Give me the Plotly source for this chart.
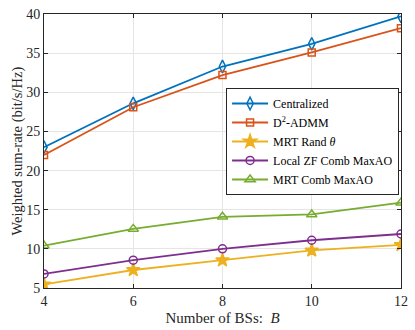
import plotly.graph_objects as go

B = [4, 6, 8, 10, 12]
centralized = [23.0, 28.6, 33.3, 36.2, 39.7]
d2admm = [22.0, 28.1, 32.2, 35.1, 38.2]
mrt_rand = [5.45, 7.3, 8.55, 9.8, 10.5]
local_zf = [6.8, 8.55, 10.0, 11.1, 11.9]
mrt_comb = [10.4, 12.55, 14.1, 14.4, 15.9]

names = ["Centralized", "D<sup>2</sup>-ADMM", "MRT Rand <i>θ</i>",
         "Local ZF Comb MaxAO", "MRT Comb MaxAO"]
series = [centralized, d2admm, mrt_rand, local_zf, mrt_comb]
colors = ["#0072BD", "#D95319", "#EDB120", "#7E2F8E", "#77AC30"]
symbols = ["diamond-tall-open", "square-open", "star", "circle-open", "triangle-up-open"]
sizes = [9, 7, 10, 8, 9]

fig = go.Figure()
for n, s, c, sym, sz in zip(names, series, colors, symbols, sizes):
    fig.add_trace(go.Scatter(
        x=B, y=s, name=n, mode="lines+markers",
        line=dict(color=c, width=1.8),
        marker=dict(symbol=sym, size=sz, color=c, line=dict(color=c, width=1.5)),
    ))

font = "Liberation Serif"
axis_common = dict(
    showgrid=True, gridcolor="#E5E5E5", gridwidth=1,
    showline=True, linecolor="#262626", linewidth=1, mirror="ticks",
    ticks="inside", ticklen=4, tickcolor="#262626",
    zeroline=False, tickfont=dict(family=font, size=14, color="#262626"),
    ticklabeloverflow="allow",
)
fig.update_layout(
    width=415, height=330,
    margin=dict(l=44, r=14, t=7, b=42),
    paper_bgcolor="white", plot_bgcolor="white",
    font=dict(family=font, color="#262626"),
    showlegend=True,
    legend=dict(
        x=0.51, y=0.73, xanchor="left", yanchor="top",
        bgcolor="white", bordercolor="#262626", borderwidth=1,
        font=dict(family=font, size=12, color="#000000"),
        tracegroupgap=0, itemwidth=36,
    ),
    xaxis=dict(range=[4, 12.001], tickvals=[4, 6, 8, 10, 12],
               title=dict(text="Number of BSs:  <i>B</i>", font=dict(family=font, size=15), standoff=4),
               **axis_common),
    yaxis=dict(range=[5, 40.01], tickvals=[5, 10, 15, 20, 25, 30, 35, 40],
               **axis_common),
    annotations=[dict(
        text="Weighted sum-rate (bit/s/Hz)", textangle=-90,
        xref="paper", yref="paper", x=-0.077, y=0.5,
        xanchor="center", yanchor="middle", showarrow=False,
        font=dict(family=font, size=14.5, color="#262626"),
    )],
)
fig.write_html("out.html", config={"displayModeBar": False},
               post_script="document.body.style.margin='0';")
